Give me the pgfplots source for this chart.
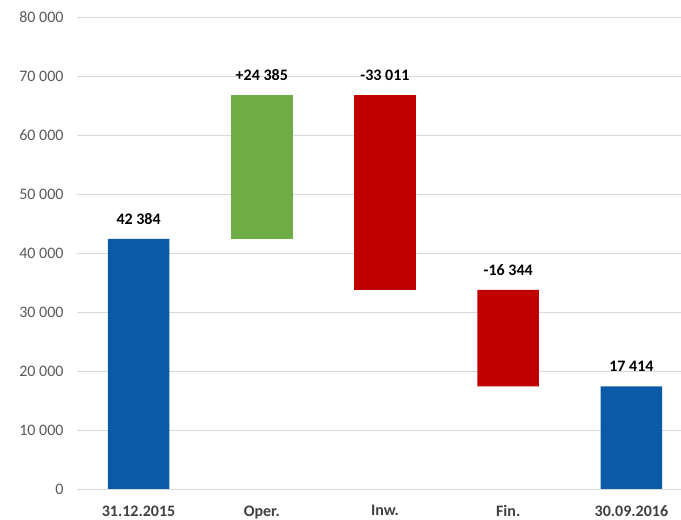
\documentclass[border=0pt]{standalone}
\usepackage{pgfplots}
\pgfplotsset{compat=1.18}
\usepackage{fontspec}
\setmainfont{Carlito}
\definecolor{wblue}{RGB}{11,90,168}
\definecolor{wgreen}{RGB}{112,173,71}
\definecolor{wred}{RGB}{192,0,0}
\definecolor{tickgray}{RGB}{89,89,89}
\definecolor{catgray}{RGB}{64,64,64}
\definecolor{gridgray}{RGB}{217,217,217}
\begin{document}
\begin{tikzpicture}[x=1pt,y=1pt]
\useasboundingbox (-77,-31) rectangle (604,489);
\pgfplotsset{common/.style={
  scale only axis, width=616pt, height=472pt,
  at={(0,0)}, anchor=south west,
  xmin=-0.5, xmax=4.5, ymin=0, ymax=80000,
  axis line style={draw=none},
  major tick length=0pt,
  scaled y ticks=false,
  clip=false,
}}
\begin{axis}[common,
  ybar stacked, bar width=0.5,
  ymajorgrids, major grid style={gridgray, line width=0.9pt},
  ytick={0,10000,20000,30000,40000,50000,60000,70000,80000},
  yticklabels={0,10 000,20 000,30 000,40 000,50 000,60 000,70 000,80 000},
  yticklabel style={font=\fontsize{16}{18}\selectfont, text=tickgray},
  yticklabel shift=10pt,
  xtick={0,1,2,3,4},
  xticklabels={31.12.2015,Oper.,Inw.,Fin.,30.09.2016},
  xticklabel style={font=\fontsize{16}{18}\selectfont\bfseries, text=catgray},
  xticklabel shift=13pt,
]
\addplot[draw=none, fill=none] coordinates {(0,0) (1,42384) (2,33758) (3,17414) (4,0)};
\addplot[draw=none, fill=wblue] coordinates {(0,42384) (1,0) (2,0) (3,0) (4,17414)};
\addplot[draw=none, fill=wgreen] coordinates {(0,0) (1,24385) (2,0) (3,0) (4,0)};
\addplot[draw=none, fill=wred] coordinates {(0,0) (1,0) (2,33011) (3,16344) (4,0)};
\end{axis}
\begin{axis}[common, hide axis]
\addplot[only marks, mark=none, point meta=explicit symbolic,
  nodes near coords,
  nodes near coords style={font=\fontsize{16}{18}\selectfont\bfseries, text=black, anchor=south, yshift=11pt}]
  coordinates {(0,42384)[42 384] (1,66769)[+24 385] (2,66769)[-33 011] (3,33758)[-16 344] (4,17414)[17 414]};
\end{axis}
\end{tikzpicture}
\end{document}
